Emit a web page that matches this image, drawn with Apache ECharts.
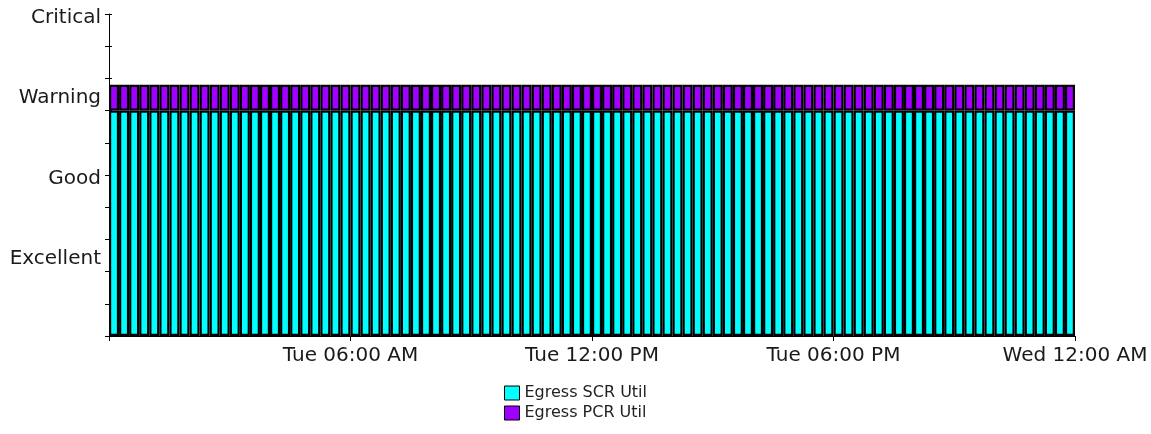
<!DOCTYPE html>
<html>
<head>
<meta charset="utf-8">
<script src="https://cdn.jsdelivr.net/npm/echarts@6/dist/echarts.min.js"></script>
<style>
  html, body { margin: 0; padding: 0; background: #fff; }
  #chart { width: 1151px; height: 434px; }
</style>
</head>
<body>
<div id="chart"></div>
<script>
// 15 minute samples, Tue 00:00 -> Tue 23:45
var times = [
  '00:00','00:15','00:30','00:45','01:00','01:15','01:30','01:45','02:00','02:15','02:30','02:45',
  '03:00','03:15','03:30','03:45','04:00','04:15','04:30','04:45','05:00','05:15','05:30','05:45',
  '06:00','06:15','06:30','06:45','07:00','07:15','07:30','07:45','08:00','08:15','08:30','08:45',
  '09:00','09:15','09:30','09:45','10:00','10:15','10:30','10:45','11:00','11:15','11:30','11:45',
  '12:00','12:15','12:30','12:45','13:00','13:15','13:30','13:45','14:00','14:15','14:30','14:45',
  '15:00','15:15','15:30','15:45','16:00','16:15','16:30','16:45','17:00','17:15','17:30','17:45',
  '18:00','18:15','18:30','18:45','19:00','19:15','19:30','19:45','20:00','20:15','20:30','20:45',
  '21:00','21:15','21:30','21:45','22:00','22:15','22:30','22:45','23:00','23:15','23:30','23:45'
];
var scrValues = [
  7,7,7,7,7,7,7,7,7,7,7,7, 7,7,7,7,7,7,7,7,7,7,7,7,
  7,7,7,7,7,7,7,7,7,7,7,7, 7,7,7,7,7,7,7,7,7,7,7,7,
  7,7,7,7,7,7,7,7,7,7,7,7, 7,7,7,7,7,7,7,7,7,7,7,7,
  7,7,7,7,7,7,7,7,7,7,7,7, 7,7,7,7,7,7,7,7,7,7,7,7
];
var pcrValues = [
  0.8,0.8,0.8,0.8,0.8,0.8,0.8,0.8,0.8,0.8,0.8,0.8, 0.8,0.8,0.8,0.8,0.8,0.8,0.8,0.8,0.8,0.8,0.8,0.8,
  0.8,0.8,0.8,0.8,0.8,0.8,0.8,0.8,0.8,0.8,0.8,0.8, 0.8,0.8,0.8,0.8,0.8,0.8,0.8,0.8,0.8,0.8,0.8,0.8,
  0.8,0.8,0.8,0.8,0.8,0.8,0.8,0.8,0.8,0.8,0.8,0.8, 0.8,0.8,0.8,0.8,0.8,0.8,0.8,0.8,0.8,0.8,0.8,0.8,
  0.8,0.8,0.8,0.8,0.8,0.8,0.8,0.8,0.8,0.8,0.8,0.8, 0.8,0.8,0.8,0.8,0.8,0.8,0.8,0.8,0.8,0.8,0.8,0.8
];
// hours from Tue 00:00, every 6h
var xTickLabels = ['', 'Tue 06:00 AM', 'Tue 12:00 PM', 'Tue 06:00 PM', 'Wed 12:00 AM'];
// level names every 2.5 units
var yLevelLabels = ['', 'Excellent', 'Good', 'Warning', 'Critical'];
var seriesNames = ['Egress SCR Util', 'Egress PCR Util'];

var font = 'DejaVu Sans';
var myChart = echarts.init(document.getElementById('chart'));
myChart.setOption({
  animation: false,
  grid: { left: 109, right: 76, top: 14, bottom: 98 },
  legend: {
    data: seriesNames,
    orient: 'vertical',
    left: 504, top: 385, padding: 0,
    itemWidth: 15, itemHeight: 14, itemGap: 4,
    icon: 'rect',
    itemStyle: { borderColor: '#000', borderWidth: 1 },
    textStyle: { fontFamily: font, fontSize: 16, color: '#222' }
  },
  xAxis: [
    {
      type: 'category',
      data: times,
      position: 'bottom',
      boundaryGap: true,
      axisLine: { onZero: false, lineStyle: { color: '#000', width: 1 } },
      axisTick: { show: false },
      axisLabel: { show: false }
    },
    {
      type: 'value',
      position: 'bottom',
      min: 0, max: 24, interval: 6,
      axisLine: { show: false, onZero: false },
      axisTick: { show: true, length: 5, lineStyle: { color: '#000' } },
      splitLine: { show: false },
      axisLabel: {
        margin: 10,
        fontFamily: font, fontSize: 20, color: '#1a1a1a',
        formatter: function (v) { return xTickLabels[v / 6] || ''; }
      }
    }
  ],
  yAxis: [
    {
      type: 'value',
      position: 'left',
      min: 0, max: 10, interval: 1,
      axisLine: { show: true, onZero: false, lineStyle: { color: '#000', width: 1 } },
      axisTick: { show: true, length: 4, lineStyle: { color: '#000' } },
      axisLabel: { show: false },
      splitLine: { show: false }
    },
    {
      type: 'value',
      position: 'left',
      min: 0, max: 10, interval: 1,
      axisLine: { show: false, onZero: false },
      axisTick: { show: true, inside: true, length: 3, lineStyle: { color: '#000' } },
      axisLabel: { show: false },
      splitLine: { show: false }
    },
    {
      type: 'value',
      position: 'left',
      min: 0, max: 10, interval: 2.5,
      axisLine: { show: false, onZero: false },
      axisTick: { show: false },
      splitLine: { show: false },
      axisLabel: {
        margin: 8,
        verticalAlign: 'top',
        lineHeight: 7,
        fontFamily: font, fontSize: 20, color: '#1a1a1a',
        formatter: function (v) { return yLevelLabels[Math.round(v / 2.5)] || ''; }
      }
    }
  ],
  series: [
    {
      name: seriesNames[0],
      type: 'bar',
      stack: 'util',
      xAxisIndex: 0, yAxisIndex: 0,
      barWidth: '100%',
      data: scrValues,
      itemStyle: { color: '#00ffff', borderColor: '#000', borderWidth: 2.2 }
    },
    {
      name: seriesNames[1],
      type: 'bar',
      stack: 'util',
      xAxisIndex: 0, yAxisIndex: 0,
      barWidth: '100%',
      data: pcrValues,
      itemStyle: { color: '#a000ff', borderColor: '#000', borderWidth: 2.2 }
    }
  ]
});
</script>
</body>
</html>
